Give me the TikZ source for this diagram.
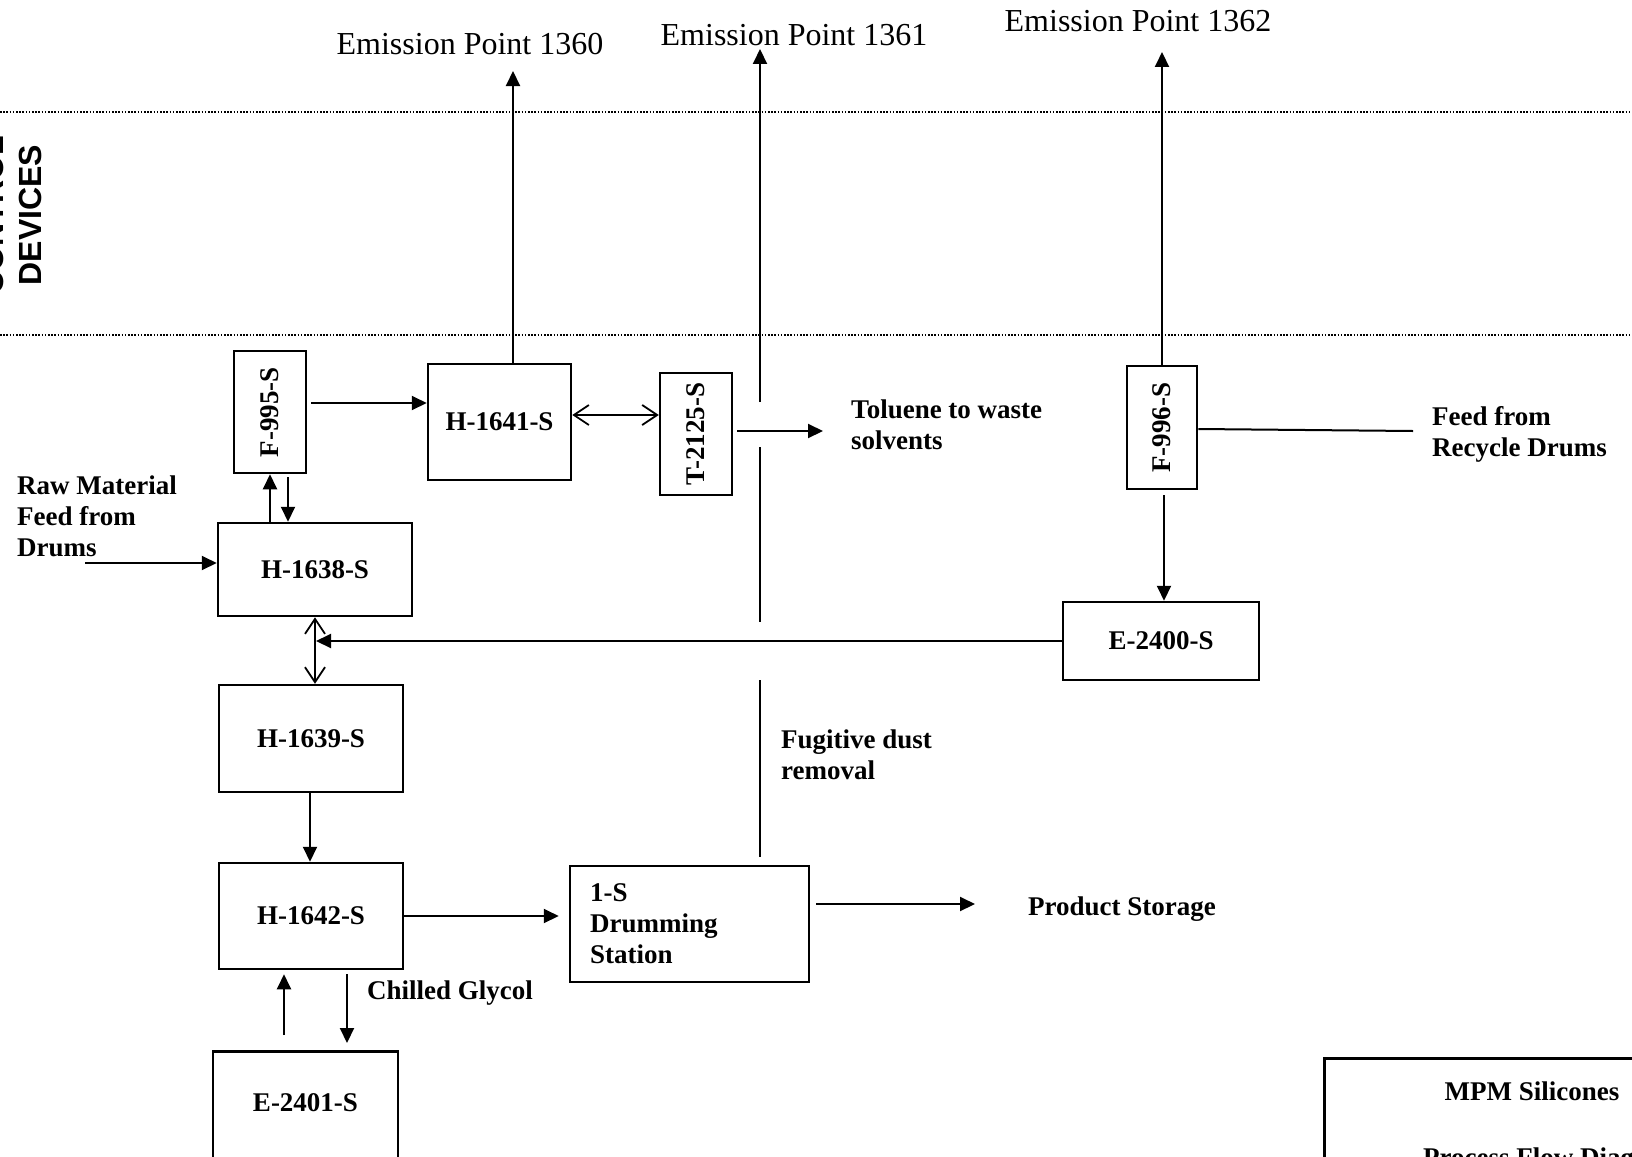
\documentclass[tikz,border=0pt]{standalone}
\usepackage{fontspec}
\setmainfont{Liberation Serif}
\setsansfont{Liberation Sans}
\usetikzlibrary{arrows.meta}
\newcommand\lblfont{\bfseries\fontsize{27}{31}\selectfont}
\newcommand\emfont{\fontsize{32}{36}\selectfont}
\tikzset{
  box/.style={draw, line width=2.5pt, inner sep=0pt, font=\lblfont, align=center},
  flow/.style={line width=2pt, -{Triangle[length=15pt,width=14pt]}},
  twoway/.style={line width=1.8pt, {Straight Barb[length=15pt,width=20pt]}-{Straight Barb[length=15pt,width=20pt]}},
  plainline/.style={line width=2pt},
  txt/.style={font=\lblfont, align=left, inner sep=0pt},
  emtxt/.style={font=\emfont, inner sep=0pt},
  dotline/.style={line width=1.6pt, dash pattern=on 1.6pt off 1.6pt}
}
\begin{document}
\begin{tikzpicture}[x=1pt,y=-1pt]
\clip (0,0) rectangle (1632,1156);
\fill[white] (0,0) rectangle (1632,1156);

% zone lines
\coordinate (dl1) at (0,112);
\coordinate (dr1) at (1632,112);
\coordinate (dl2) at (0,335);
\coordinate (dr2) at (1632,335);
\draw[dotline] (dl1) -- (dr1);
\draw[dotline] (dl2) -- (dr2);
\node[font=\sffamily\bfseries\fontsize{32}{38}\selectfont, rotate=90, align=center, inner sep=0pt] (zone) at (11,215) {CONTROL\\DEVICES};

% boxes
\node[box, minimum width=72, minimum height=122] (f995) at (270,412) {\rotatebox{90}{F-995-S}};
\node[box, minimum width=143, minimum height=116] (h1641) at (499.5,422) {H-1641-S};
\node[box, minimum width=194, minimum height=93] (h1638) at (315,569.5) {H-1638-S};
\node[box, minimum width=72, minimum height=122] (t2125) at (696,434) {\rotatebox{90}{T-2125-S}};
\node[box, minimum width=70, minimum height=123] (f996) at (1162,427.5) {\rotatebox{90}{F-996-S}};
\node[box, minimum width=196, minimum height=78] (e2400) at (1161,641) {E-2400-S};
\node[box, minimum width=184, minimum height=107] (h1639) at (311,738.5) {H-1639-S};
\node[box, minimum width=184, minimum height=106] (h1642) at (311,916) {H-1642-S};
\node[box, minimum width=239, minimum height=116] (s1) at (689.5,924) {};
\node[txt, anchor=west] (s1txt) at (590,924) {1-S\\Drumming\\Station};
\node[box, anchor=north, minimum width=185, minimum height=150] (e2401) at (305.5,1050) {};
\node[txt] (e2401txt) at (305.5,1103) {E-2401-S};
\node[box, anchor=north west, minimum width=400, minimum height=300] (mpm) at (1323,1057) {};
\node[txt, anchor=base] (mpm1) at (1532,1100) {MPM Silicones};
\node[txt, anchor=base west] (mpm2) at (1423,1166) {Process Flow Diagram};

% labels
\node[emtxt] (e1360) at (470,44) {Emission Point 1360};
\node[emtxt] (e1361) at (794,35) {Emission Point 1361};
\node[emtxt] (e1362) at (1138,21) {Emission Point 1362};
\node[txt, anchor=west] (raw) at (17,516) {Raw Material\\Feed from\\Drums};
\node[txt, anchor=west] (tol) at (851,424.5) {Toluene to waste\\solvents};
\node[txt, anchor=west] (feed) at (1432,434) {Feed from\\Recycle Drums};
\node[txt, anchor=west] (fug) at (781,754.5) {Fugitive dust\\removal};
\node[txt, anchor=west] (chill) at (367,993) {Chilled Glycol};
\node[txt, anchor=west] (prod) at (1028,909) {Product Storage};

% free ends
\coordinate (ep1360) at (513,71);
\coordinate (ep1361) at (760,49);
\coordinate (ep1362) at (1162,52);
\coordinate (v1a) at (760,402);
\coordinate (v1b) at (760,447);
\coordinate (v1c) at (760,622);
\coordinate (v1d) at (760,680);
\coordinate (v1e) at (760,857);
\coordinate (tolend) at (823,431);
\coordinate (feedend) at (1413,431);
\coordinate (merge) at (316,641);
\coordinate (rawstart) at (85,563);
\coordinate (prodend) at (975,904);

% connectors
\draw[flow, shorten <=4pt] (f995.east |- 0,403) -- (h1641.west |- 0,403);
\draw[twoway] (h1641.east |- 0,415) -- (t2125.west |- 0,415);
\draw[flow, shorten <=4pt] (t2125.east |- 0,431) -- (tolend);
\draw[flow] (h1641.north -| ep1360) -- (ep1360);
\draw[flow] (v1a) -- (ep1361);
\draw[plainline] (v1b) -- (v1c);
\draw[plainline] (v1d) -- (v1e);
\draw[flow] (f996.north) -- (ep1362);
\draw[plainline] (f996.east |- 0,429) -- (feedend);
\draw[flow, shorten <=5pt] (f996.south -| 1164,0) -- (e2400.north -| 1164,0);
\draw[flow] (e2400.west) -- (merge);
\draw[twoway] (h1638.south -| 315,0) -- (h1639.north -| 315,0);
\draw[flow] (h1638.north -| 270,0) -- (f995.south -| 270,0);
\draw[flow, shorten <=3pt] (f995.south -| 288,0) -- (h1638.north -| 288,0);
\draw[flow] (rawstart) -- (h1638.west |- rawstart);
\draw[flow] (h1639.south -| 310,0) -- (h1642.north -| 310,0);
\draw[flow, shorten >=10pt] (h1642.east |- 0,916) -- (s1.west |- 0,916);
\draw[flow, shorten <=6pt] (s1.east |- prodend) -- (prodend);
\draw[flow, shorten <=15pt, shorten >=4pt] (e2401.north -| 284,0) -- (h1642.south -| 284,0);
\draw[flow, shorten <=4pt, shorten >=7pt] (h1642.south -| 347,0) -- (e2401.north -| 347,0);
\end{tikzpicture}
\end{document}
